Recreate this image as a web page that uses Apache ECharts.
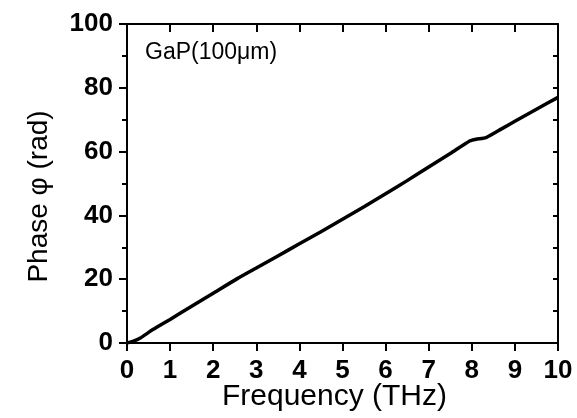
<!DOCTYPE html>
<html>
<head>
<meta charset="utf-8">
<script src="https://cdn.jsdelivr.net/npm/echarts@6/dist/echarts.min.js"></script>
<style>
html,body{margin:0;padding:0;background:#fff;}
#c{width:577px;height:418px;}
</style>
</head>
<body>
<div id="c"></div>
<script>
const freq  = [0, 0.15, 0.3, 0.6, 1.0, 1.5, 2.0, 2.55, 3.0, 3.5, 4.0, 4.5, 5.0, 5.5, 6.0, 6.5, 7.0, 7.5, 7.96, 8.1, 8.33, 8.7, 9.0, 9.5, 10.0];
const phase = [0, 0.6, 1.5, 4.2, 7.4, 11.5, 15.6, 20.1, 23.5, 27.3, 31.1, 34.9, 38.8, 42.7, 46.8, 50.9, 55.2, 59.4, 63.4, 63.9, 64.4, 67.2, 69.5, 73.3, 77.0];
const xTitle = 'Frequency (THz)';
const yTitle = 'Phase \u03C6 (rad)';
const sampleLabel = 'GaP(100\u03BCm)';

const FONT = '"Liberation Sans", Arial, sans-serif';
const chart = echarts.init(document.getElementById('c'), null, {renderer: 'canvas'});
const axisLine = {show: true, onZero: false, lineStyle: {color: '#000', width: 2}};
chart.setOption({
  animation: false,
  backgroundColor: '#fff',
  grid: {left: 127, right: 19, top: 24, bottom: 75, containLabel: false, outerBoundsMode: 'none'},
  xAxis: [{
    type: 'value', min: 0, max: 10, interval: 1, position: 'bottom',
    axisLine: axisLine,
    axisTick: {show: true, inside: false, length: 8, lineStyle: {color: '#000', width: 2}},
    axisLabel: {color: '#000', fontFamily: FONT, fontWeight: 'bold', fontSize: 26, margin: 15},
    splitLine: {show: false},
    name: xTitle, nameLocation: 'middle', nameGap: 39, nameMoveOverlap: false,
    nameTextStyle: {color: '#000', fontFamily: FONT, fontSize: 30, padding: [0, 16, 0, 0]}
  }, {
    type: 'value', min: 0, max: 10, interval: 1, position: 'top',
    axisLine: axisLine,
    axisTick: {show: true, inside: true, length: 8, lineStyle: {color: '#000', width: 2}},
    axisLabel: {show: false}, splitLine: {show: false}
  }],
  yAxis: [{
    type: 'value', min: 0, max: 100, interval: 20, position: 'left',
    axisLine: axisLine,
    axisTick: {show: true, inside: false, length: 8, lineStyle: {color: '#000', width: 2}},
    minorTick: {show: true, splitNumber: 2, length: 5, lineStyle: {color: '#000', width: 2}},
    axisLabel: {color: '#000', fontFamily: FONT, fontWeight: 'bold', fontSize: 26, margin: 14},
    splitLine: {show: false},
    name: yTitle, nameLocation: 'middle', nameGap: 74, nameRotate: 90, nameMoveOverlap: false,
    nameTextStyle: {color: '#000', fontFamily: FONT, fontSize: 28, padding: [0, 26, 0, 0]}
  }, {
    type: 'value', min: 0, max: 100, interval: 10, position: 'right',
    axisLine: axisLine,
    axisTick: {show: true, inside: true, length: 5, lineStyle: {color: '#000', width: 2}},
    axisLabel: {show: false}, splitLine: {show: false}
  }],
  graphic: [{
    type: 'text', left: 145, top: 41,
    style: {text: sampleLabel, fill: '#000', font: '23px ' + FONT}
  }],
  series: [{
    type: 'line', xAxisIndex: 0, yAxisIndex: 0,
    data: freq.map((f, i) => [f, phase[i]]),
    showSymbol: false, smooth: 0.2,
    lineStyle: {color: '#000', width: 3.5},
    clip: true
  }]
});
</script>
</body>
</html>
